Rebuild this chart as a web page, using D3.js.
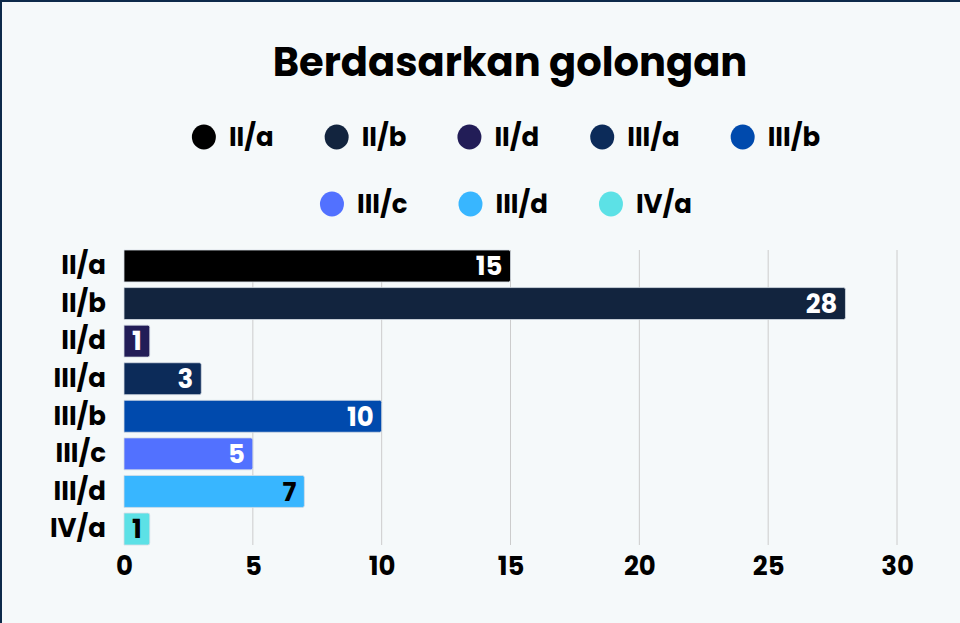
<!DOCTYPE html>
<html>
<head>
<meta charset="utf-8">
<script src="https://cdn.jsdelivr.net/npm/d3@7"></script>
<style>
  html, body { margin: 0; padding: 0; background: #f5f9fa; }
  svg { display: block; }
</style>
</head>
<body>
<div id="chart"></div>
<script>
const categories = ['II/a', 'II/b', 'II/d', 'III/a', 'III/b', 'III/c', 'III/d', 'IV/a'];
const values = [15, 28, 1, 3, 10, 5, 7, 1];
const colors = ['#000000', '#12243e', '#221d57', '#0c2b59', '#004aad', '#5271ff', '#38b6ff', '#5ce1e6'];
const xTicks = [0, 5, 10, 15, 20, 25, 30];
const legendRows = [['II/a', 'II/b', 'II/d', 'III/a', 'III/b'], ['III/c', 'III/d', 'IV/a']];
const title = 'Berdasarkan golongan';

const width = 960, height = 623;
const margin = { top: 250, right: 63, bottom: 78, left: 124 };
const font = 'Poppins, Inter, "Open Sans", sans-serif';
const centerX = 506;
const labelSize = 26;

const svg = d3.select('#chart').append('svg')
    .attr('width', width)
    .attr('height', height);

svg.append('rect').attr('width', width).attr('height', height).attr('fill', '#f5f9fa');
// frame edges (left and top)
svg.append('rect').attr('x', 0).attr('y', 0).attr('width', 2).attr('height', height).attr('fill', '#0d2a4a');
svg.append('rect').attr('x', 0).attr('y', 0).attr('width', width).attr('height', 2).attr('fill', '#0d2a4a');

svg.append('text')
    .attr('x', 510)
    .attr('y', 76)
    .attr('text-anchor', 'middle')
    .attr('font-family', font)
    .attr('font-weight', 700)
    .attr('font-size', 40)
    .attr('fill', '#000')
    .text(title);

const x = d3.scaleLinear().domain([0, 30]).range([margin.left, width - margin.right]);
const y = d3.scaleBand().domain(categories).range([margin.top, height - margin.bottom]).paddingInner(0.15).paddingOuter(0);
const color = d3.scaleOrdinal().domain(categories).range(colors);

// Legend
const legendY = [137, 204];
const gap = 51;
legendRows.forEach((row, ri) => {
    const g = svg.append('g');
    let cx = 0;
    row.forEach(cat => {
        const item = g.append('g').attr('transform', `translate(${cx},0)`);
        item.append('ellipse').attr('cx', 12).attr('cy', 0).attr('rx', 12).attr('ry', 12.5).attr('fill', color(cat));
        const t = item.append('text')
            .attr('x', 37)
            .attr('y', 0)
            .attr('dy', '0.35em')
            .attr('font-family', font)
            .attr('font-weight', 700)
            .attr('font-size', labelSize)
            .attr('fill', '#000')
            .text(cat);
        const w = t.node().getComputedTextLength();
        cx += 37 + w + gap;
    });
    const total = cx - gap;
    g.attr('transform', `translate(${centerX - total / 2},${legendY[ri]})`);
});

// Grid lines
svg.append('g')
    .selectAll('line')
    .data(xTicks.filter(d => d > 0))
    .join('line')
    .attr('x1', d => x(d)).attr('x2', d => x(d))
    .attr('y1', margin.top).attr('y2', height - margin.bottom)
    .attr('stroke', '#cccccc')
    .attr('stroke-width', 1);

// Bars with rounded right corners
const r = 2;
function barPath(x0, y0, w, h) {
    return `M${x0},${y0}H${x0 + w - r}Q${x0 + w},${y0} ${x0 + w},${y0 + r}V${y0 + h - r}Q${x0 + w},${y0 + h} ${x0 + w - r},${y0 + h}H${x0}Z`;
}

const data = categories.map((c, i) => ({ cat: c, value: values[i] }));

svg.append('g')
    .selectAll('path')
    .data(data)
    .join('path')
    .attr('d', d => barPath(x(0), y(d.cat), x(d.value) - x(0), y.bandwidth()))
    .attr('fill', d => color(d.cat))
    .attr('stroke', '#d5dde4')
    .attr('stroke-width', 0.8);

// Value labels, dark text on light bars
const lightBars = new Set(['III/d', 'IV/a']);
svg.append('g')
    .selectAll('text')
    .data(data)
    .join('text')
    .attr('x', d => x(d.value) - 8)
    .attr('y', d => y(d.cat) + y.bandwidth() / 2)
    .attr('dy', '0.36em')
    .attr('text-anchor', 'end')
    .attr('font-family', font)
    .attr('font-weight', 700)
    .attr('font-size', labelSize)
    .attr('fill', d => lightBars.has(d.cat) ? '#000' : '#fff')
    .text(d => d.value);

// Y axis labels
svg.append('g')
    .attr('transform', `translate(${margin.left},0)`)
    .call(d3.axisLeft(y).tickSize(0).tickPadding(18))
    .call(g => g.select('.domain').remove())
    .call(g => g.selectAll('text')
        .attr('font-family', font)
        .attr('font-weight', 700)
        .attr('font-size', labelSize)
        .attr('fill', '#000'));

// X axis labels
svg.append('g')
    .attr('transform', `translate(0,${height - margin.bottom})`)
    .call(d3.axisBottom(x).tickValues(xTicks).tickSize(0).tickPadding(12))
    .call(g => g.select('.domain').remove())
    .call(g => g.selectAll('text')
        .attr('font-family', font)
        .attr('font-weight', 700)
        .attr('font-size', labelSize)
        .attr('fill', '#000'));
</script>
</body>
</html>
